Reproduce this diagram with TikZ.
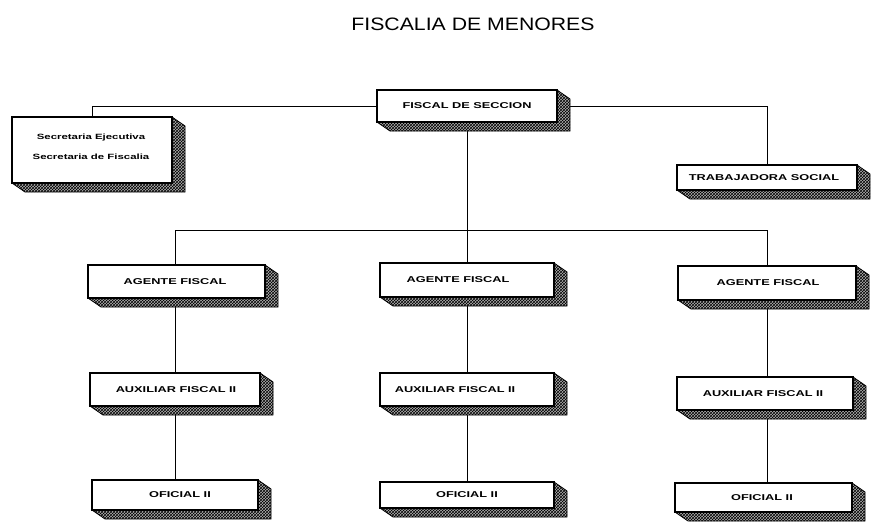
\documentclass[tikz,border=0pt]{standalone}
\usepackage{fontspec}
\setmainfont{Liberation Sans}
\newfontfamily\boxfont[FakeStretch=1.5]{Liberation Sans}
\newfontfamily\titlefont[FakeStretch=1.18]{Liberation Sans}
\usetikzlibrary{patterns}
\pgfdeclarelayer{bg}
\pgfsetlayers{bg,main}
\tikzset{
  frontbox/.style={draw, line width=1.1pt, fill=white, inner sep=0pt},
  boxlabel/.style={font=\boxfont\bfseries\fontsize{8.5}{10}\selectfont, inner sep=0pt},
  smalllabel/.style={font=\boxfont\bfseries\fontsize{7.6}{20}\selectfont, inner sep=0pt, align=center},
  shade3d/.style={preaction={fill=black!30}, pattern=crosshatch, pattern color=black, draw, line width=0.8pt},
  conn/.style={line width=1pt},
}
% name, x1, y1, x2, y2, text x, text
\newcommand\obox[7]{%
  \path[shade3d] (#4,#3) -- ({#4+13},{#3+9}) -- ({#4+13},{#5+9}) -- ({#2+13},{#5+9}) -- (#2,#5) -- cycle;
  \node[frontbox, minimum width={#4pt-#2pt}, minimum height={#5pt-#3pt}] (#1) at ({(#2+#4)/2},{(#3+#5)/2}) {};
  \node[boxlabel] (#1t) at (#6,{(#3+#5)/2}) {#7};%
}
\begin{document}
\begin{tikzpicture}[x=1pt,y=-1pt]
\useasboundingbox (0,0) rectangle (873,527);
\node[font=\titlefont\fontsize{18}{20}\selectfont, inner sep=0pt] (title) at (473,24) {FISCALIA DE MENORES};

\obox{fiscal}{377}{90}{557}{122}{467}{FISCAL DE SECCION}
% secretaria box
\path[shade3d] (172,117) -- (185,126) -- (185,192) -- (25,192) -- (12,183) -- cycle;
\node[frontbox, minimum width=160pt, minimum height=66pt] (secre) at (92,150) {};
\node[smalllabel] (secret) at (91,147) {Secretaria Ejecutiva\\Secretaria de Fiscalia};

\obox{trab}{677}{165}{857}{190}{764}{TRABAJADORA SOCIAL}

\obox{ag1}{88}{265}{265}{298}{175}{AGENTE FISCAL}
\obox{ag2}{380}{263}{554}{297}{458}{AGENTE FISCAL}
\obox{ag3}{678}{266}{856}{300}{768}{AGENTE FISCAL}

\obox{aux1}{90}{373}{260}{406}{176}{AUXILIAR FISCAL II}
\obox{aux2}{380}{373}{554}{406}{455}{AUXILIAR FISCAL II}
\obox{aux3}{677}{377}{853}{410}{763}{AUXILIAR FISCAL II}

\obox{of1}{92}{480}{258}{510}{180}{OFICIAL II}
\obox{of2}{380}{482}{554}{508}{467}{OFICIAL II}
\obox{of3}{675}{483}{852}{512}{762}{OFICIAL II}

\coordinate (c1) at (175,230);
\coordinate (c2) at (467,230);
\coordinate (c3) at (767,230);

\begin{pgfonlayer}{bg}
\draw[conn] (fiscal.west) -| (secre.north);
\draw[conn] (fiscal.east) -| (trab.north);
\draw[conn] (fiscal.south) -- (ag2.north);
\draw[conn] (c1 |- ag1.north) -- (c1) -- (c3) -- (c3 |- ag3.north);
\draw[conn] (c1 |- ag1.south) -- (c1 |- aux1.north);
\draw[conn] (c1 |- aux1.south) -- (c1 |- of1.north);
\draw[conn] (ag2.south) -- (aux2.north);
\draw[conn] (aux2.south) -- (of2.north);
\draw[conn] (c3 |- ag3.south) -- (c3 |- aux3.north);
\draw[conn] (c3 |- aux3.south) -- (c3 |- of3.north);
\end{pgfonlayer}
\end{tikzpicture}
\end{document}
